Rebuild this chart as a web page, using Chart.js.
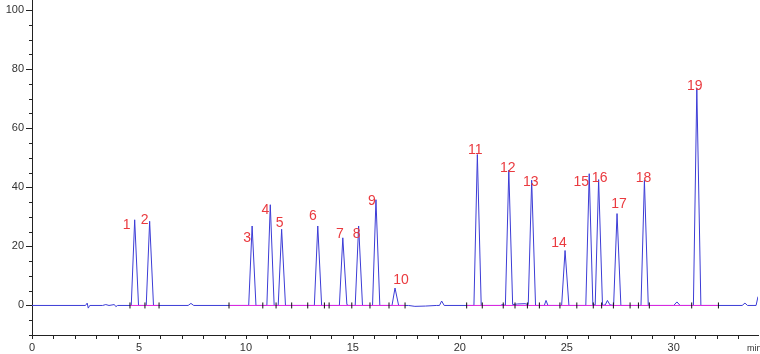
<!DOCTYPE html>
<html>
<head>
<meta charset="utf-8">
<script src="https://cdn.jsdelivr.net/npm/chart.js@4/dist/chart.umd.min.js"></script>
<style>
  html, body { margin: 0; padding: 0; background: #fff; }
  canvas { display: block; }
</style>
</head>
<body>
<canvas id="chrom" width="760" height="354"></canvas>
<script>
'use strict';

// >>> peak table <<<
const peakNumbers = [1, 2, 3, 4, 5, 6, 7, 8, 9, 10, 11, 12, 13, 14, 15, 16, 17, 18, 19];
const peakTimes = [4.80, 5.50, 10.29, 11.14, 11.67, 13.36, 14.53, 15.27, 16.08, 16.97,
  20.82, 22.29, 23.36, 24.92, 26.05, 26.49, 27.35, 28.63, 31.08];
const peakHeights = [29.0, 28.5, 26.9, 34.1, 25.8, 26.9, 22.9, 26.9, 35.8, 5.9,
  51.1, 45.8, 42.4, 18.6, 44.6, 42.6, 31.1, 42.4, 73.5];

// >>> detector trace, minutes / signal <<<
const traceTimes = [
  0, 2.5, 2.58, 2.63, 2.7, 3.3, 3.45, 3.6, 3.85, 3.92, 4.0,
  4.64, 4.80, 4.98, 5.34, 5.50, 5.68, 7.3, 7.43, 7.56,
  10.13, 10.29, 10.47, 10.98, 11.14, 11.32, 11.51, 11.67, 11.85,
  13.20, 13.36, 13.54, 14.37, 14.53, 14.72, 14.8, 15.11, 15.27, 15.45,
  15.92, 16.08, 16.26, 16.83, 16.97, 17.14, 17.6, 17.9, 18.4, 18.9,
  19.05, 19.15, 19.27, 20.66, 20.82, 21.00, 21.9, 22.0, 22.13, 22.29, 22.47,
  22.7, 23.05, 23.20, 23.36, 23.54, 23.95, 24.03, 24.12, 24.76, 24.92, 25.10,
  25.89, 26.05, 26.22, 26.33, 26.49, 26.67, 26.8, 26.9, 27.02, 27.19, 27.35, 27.53,
  28.47, 28.63, 28.81, 30.0, 30.15, 30.3, 30.92, 31.08, 31.27,
  33.2, 33.33, 33.45, 33.85, 33.94
];
const traceValues = [
  0, 0, 0.8, -0.9, 0, 0, 0.3, 0, 0.3, -0.4, 0,
  0, 29.0, 0, 0, 28.5, 0, 0, 0.7, 0,
  0, 26.9, 0, 0, 34.1, 0, 0, 25.8, 0,
  0, 26.9, 0, 0, 22.9, 0.3, 0, 0, 26.9, 0,
  0, 35.8, 0, 0, 5.9, 0, 0, -0.3, -0.2, 0,
  0, 1.5, 0, 0, 51.1, 0, 0, 0.3, 0, 45.8, 0.3,
  0.5, 0.6, 0.3, 42.4, 0, 0, 1.7, 0, 0, 18.6, 0,
  0, 44.6, 0.2, 0.2, 42.6, 0, 0.2, 1.7, 0.2, 0, 31.1, 0,
  0, 42.4, 0, 0, 1.2, 0, 0, 73.5, 0,
  0, 0.8, 0, 0, 3
];

// >>> integration baselines and peak start/end marks <<<
const baselineStarts = [4.58, 9.21, 20.32];
const baselineEnds = [5.94, 17.44, 32.09];
const markerTimes = [4.58, 5.28, 5.94, 9.21, 10.79, 11.41, 12.14, 12.89, 13.67, 13.89,
  14.95, 15.80, 16.69, 17.44, 20.32, 21.05, 22.03, 22.58, 23.16, 23.72,
  24.68, 25.47, 26.24, 26.63, 27.18, 27.96, 28.35, 28.86, 30.84, 32.09];

// pixel nudges for each peak number label
const labelOffsets = [[-8, 5], [-5, -1], [-5, 12], [-5, 5], [-2, -6], [-5, -10], [-3, -4],
  [-2, 8], [-4, 1], [6, -8], [-2, -4], [-1, -2], [-1, 2], [-6, -7], [-8, 8], [1, -1],
  [2, -9], [-1, -2], [-2, -2]];

// build point lists for the library
let tracePoints = [];
for (let i = 0; i < traceTimes.length; i++) {
  tracePoints.push({ x: traceTimes[i], y: traceValues[i] });
}
let baselinePoints = [];
for (let i = 0; i < baselineStarts.length; i++) {
  baselinePoints.push({ x: baselineStarts[i], y: 0 });
  baselinePoints.push({ x: baselineEnds[i], y: 0 });
  baselinePoints.push({ x: baselineEnds[i] + 0.01, y: null });
}
let markerPoints = markerTimes.map(t => ({ x: t, y: 0 }));

// >>> plugin: axis tick marks, peak labels, "min" <<<
const decorPlugin = {
  id: 'decor',
  afterDraw(chart) {
    const ctx = chart.ctx;
    const xs = chart.scales.x;
    const ys = chart.scales.y;
    const area = chart.chartArea;
    ctx.save();
    ctx.strokeStyle = '#222';
    ctx.lineWidth = 1;
    ctx.beginPath();
    // y ticks, long at labelled values
    ys.ticks.forEach(tk => {
      const py = Math.round(ys.getPixelForValue(tk.value)) + 0.5;
      const len = tk.value % 20 === 0 ? 6 : 3;
      ctx.moveTo(area.left - len, py);
      ctx.lineTo(area.left, py);
    });
    // x ticks every minute
    xs.ticks.forEach(tk => {
      const px = Math.round(xs.getPixelForValue(tk.value)) + 0.5;
      ctx.moveTo(px, area.bottom);
      ctx.lineTo(px, area.bottom + 4);
    });
    ctx.stroke();

    // peak numbers
    ctx.fillStyle = '#ea3a3f';
    ctx.font = '14px "Liberation Sans", Arial, sans-serif';
    ctx.textAlign = 'center';
    ctx.textBaseline = 'middle';
    for (let i = 0; i < peakNumbers.length; i++) {
      const px = xs.getPixelForValue(peakTimes[i]);
      const py = ys.getPixelForValue(peakHeights[i]);
      ctx.fillText(String(peakNumbers[i]), px + labelOffsets[i][0], py + labelOffsets[i][1]);
    }

    // axis unit
    ctx.fillStyle = '#333';
    ctx.font = '9px "Liberation Sans", Arial, sans-serif';
    ctx.textAlign = 'left';
    ctx.fillText('min', area.right - 11, 349);
    ctx.restore();
  }
};

let chartConfig = {
  type: 'line',
  data: {
    datasets: [
      {
        data: tracePoints,
        order: 2,
        borderColor: '#3c3cd6',
        borderWidth: 1,
        pointRadius: 0,
        tension: 0,
        borderJoinStyle: 'round'
      },
      {
        data: baselinePoints,
        order: 1,
        borderColor: '#e02ae0',
        borderWidth: 1,
        pointRadius: 0,
        spanGaps: false
      },
      {
        data: markerPoints,
        order: 0,
        showLine: false,
        pointStyle: 'line',
        rotation: 90,
        pointRadius: 3,
        borderColor: '#111',
        borderWidth: 1
      }
    ]
  },
  options: {
    responsive: false,
    animation: false,
    devicePixelRatio: 1,
    layout: { autoPadding: false, padding: { top: 0, right: 2, left: 0, bottom: 0 } },
    plugins: { legend: { display: false }, tooltip: { enabled: false } },
    scales: {
      x: {
        type: 'linear',
        min: 0,
        max: 33.94,
        grid: { display: false, drawTicks: false },
        border: { display: true, color: '#222', width: 1 },
        afterFit(scale) {
          scale.height = 19;
          scale.paddingLeft = 0;
          scale.paddingRight = 0;
        },
        ticks: {
          stepSize: 1,
          includeBounds: false,
          autoSkip: false,
          maxRotation: 0,
          padding: 6,
          color: '#333',
          font: { family: '"Liberation Sans", Arial, sans-serif', size: 11 },
          callback: v => (v % 5 === 0 ? String(v) : '')
        }
      },
      y: {
        min: -10,
        max: 103.4,
        grid: { display: false, drawTicks: false },
        border: { display: true, color: '#222', width: 1 },
        afterFit(scale) {
          scale.width = 32;
          scale.paddingTop = 0;
          scale.paddingBottom = 0;
        },
        ticks: {
          stepSize: 5,
          includeBounds: false,
          autoSkip: false,
          padding: 8,
          color: '#333',
          font: { family: '"Liberation Sans", Arial, sans-serif', size: 11 },
          callback: v => (v % 20 === 0 ? String(v) : '')
        }
      }
    }
  },
  plugins: [decorPlugin]
};

let myChart = new Chart(document.getElementById('chrom').getContext('2d'), chartConfig);
</script>
</body>
</html>
